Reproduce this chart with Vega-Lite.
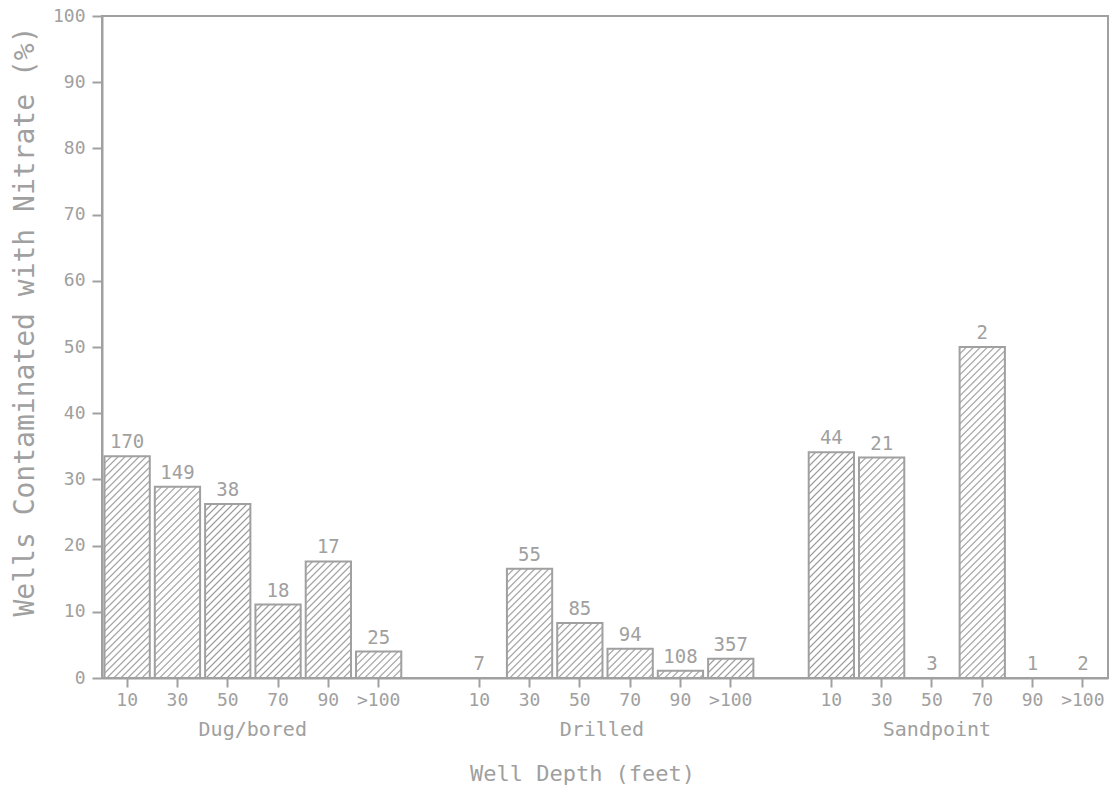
{
  "$schema": "https://vega.github.io/schema/vega-lite/v6.json",
  "autosize": "none",
  "width": 1006,
  "height": 662,
  "padding": {"left": 102, "top": 16, "right": 1, "bottom": 116},
  "background": "white",
  "params": [
    {
      "name": "hatchStops",
      "value": [
        {"offset": 0, "color": "#fff"},
        {"offset": 0.0135, "color": "#fff"}, {"offset": 0.0175, "color": "#999"}, {"offset": 0.0215, "color": "#fff"},
        {"offset": 0.031, "color": "#fff"}, {"offset": 0.035, "color": "#999"}, {"offset": 0.039, "color": "#fff"},
        {"offset": 0.0485, "color": "#fff"}, {"offset": 0.0525, "color": "#999"}, {"offset": 0.0565, "color": "#fff"},
        {"offset": 0.066, "color": "#fff"}, {"offset": 0.07, "color": "#999"}, {"offset": 0.074, "color": "#fff"},
        {"offset": 0.0835, "color": "#fff"}, {"offset": 0.0875, "color": "#999"}, {"offset": 0.0915, "color": "#fff"},
        {"offset": 0.101, "color": "#fff"}, {"offset": 0.105, "color": "#999"}, {"offset": 0.109, "color": "#fff"},
        {"offset": 0.1185, "color": "#fff"}, {"offset": 0.1225, "color": "#999"}, {"offset": 0.1265, "color": "#fff"},
        {"offset": 0.136, "color": "#fff"}, {"offset": 0.14, "color": "#999"}, {"offset": 0.144, "color": "#fff"},
        {"offset": 0.1535, "color": "#fff"}, {"offset": 0.1575, "color": "#999"}, {"offset": 0.1615, "color": "#fff"},
        {"offset": 0.171, "color": "#fff"}, {"offset": 0.175, "color": "#999"}, {"offset": 0.179, "color": "#fff"},
        {"offset": 0.1885, "color": "#fff"}, {"offset": 0.1925, "color": "#999"}, {"offset": 0.1965, "color": "#fff"},
        {"offset": 0.206, "color": "#fff"}, {"offset": 0.21, "color": "#999"}, {"offset": 0.214, "color": "#fff"},
        {"offset": 0.2235, "color": "#fff"}, {"offset": 0.2275, "color": "#999"}, {"offset": 0.2315, "color": "#fff"},
        {"offset": 0.241, "color": "#fff"}, {"offset": 0.245, "color": "#999"}, {"offset": 0.249, "color": "#fff"},
        {"offset": 0.2585, "color": "#fff"}, {"offset": 0.2625, "color": "#999"}, {"offset": 0.2665, "color": "#fff"},
        {"offset": 0.276, "color": "#fff"}, {"offset": 0.28, "color": "#999"}, {"offset": 0.284, "color": "#fff"},
        {"offset": 0.2935, "color": "#fff"}, {"offset": 0.2975, "color": "#999"}, {"offset": 0.3015, "color": "#fff"},
        {"offset": 0.311, "color": "#fff"}, {"offset": 0.315, "color": "#999"}, {"offset": 0.319, "color": "#fff"},
        {"offset": 0.3285, "color": "#fff"}, {"offset": 0.3325, "color": "#999"}, {"offset": 0.3365, "color": "#fff"},
        {"offset": 0.346, "color": "#fff"}, {"offset": 0.35, "color": "#999"}, {"offset": 0.354, "color": "#fff"},
        {"offset": 0.3635, "color": "#fff"}, {"offset": 0.3675, "color": "#999"}, {"offset": 0.3715, "color": "#fff"},
        {"offset": 0.381, "color": "#fff"}, {"offset": 0.385, "color": "#999"}, {"offset": 0.389, "color": "#fff"},
        {"offset": 0.3985, "color": "#fff"}, {"offset": 0.4025, "color": "#999"}, {"offset": 0.4065, "color": "#fff"},
        {"offset": 0.416, "color": "#fff"}, {"offset": 0.42, "color": "#999"}, {"offset": 0.424, "color": "#fff"},
        {"offset": 0.4335, "color": "#fff"}, {"offset": 0.4375, "color": "#999"}, {"offset": 0.4415, "color": "#fff"},
        {"offset": 0.451, "color": "#fff"}, {"offset": 0.455, "color": "#999"}, {"offset": 0.459, "color": "#fff"},
        {"offset": 0.4685, "color": "#fff"}, {"offset": 0.4725, "color": "#999"}, {"offset": 0.4765, "color": "#fff"},
        {"offset": 0.486, "color": "#fff"}, {"offset": 0.49, "color": "#999"}, {"offset": 0.494, "color": "#fff"},
        {"offset": 0.5035, "color": "#fff"}, {"offset": 0.5075, "color": "#999"}, {"offset": 0.5115, "color": "#fff"},
        {"offset": 0.521, "color": "#fff"}, {"offset": 0.525, "color": "#999"}, {"offset": 0.529, "color": "#fff"},
        {"offset": 0.5385, "color": "#fff"}, {"offset": 0.5425, "color": "#999"}, {"offset": 0.5465, "color": "#fff"},
        {"offset": 0.556, "color": "#fff"}, {"offset": 0.56, "color": "#999"}, {"offset": 0.564, "color": "#fff"},
        {"offset": 0.5735, "color": "#fff"}, {"offset": 0.5775, "color": "#999"}, {"offset": 0.5815, "color": "#fff"},
        {"offset": 0.591, "color": "#fff"}, {"offset": 0.595, "color": "#999"}, {"offset": 0.599, "color": "#fff"},
        {"offset": 0.6085, "color": "#fff"}, {"offset": 0.6125, "color": "#999"}, {"offset": 0.6165, "color": "#fff"},
        {"offset": 0.626, "color": "#fff"}, {"offset": 0.63, "color": "#999"}, {"offset": 0.634, "color": "#fff"},
        {"offset": 0.6435, "color": "#fff"}, {"offset": 0.6475, "color": "#999"}, {"offset": 0.6515, "color": "#fff"},
        {"offset": 0.661, "color": "#fff"}, {"offset": 0.665, "color": "#999"}, {"offset": 0.669, "color": "#fff"},
        {"offset": 0.6785, "color": "#fff"}, {"offset": 0.6825, "color": "#999"}, {"offset": 0.6865, "color": "#fff"},
        {"offset": 0.696, "color": "#fff"}, {"offset": 0.7, "color": "#999"}, {"offset": 0.704, "color": "#fff"},
        {"offset": 0.7135, "color": "#fff"}, {"offset": 0.7175, "color": "#999"}, {"offset": 0.7215, "color": "#fff"},
        {"offset": 0.731, "color": "#fff"}, {"offset": 0.735, "color": "#999"}, {"offset": 0.739, "color": "#fff"},
        {"offset": 0.7485, "color": "#fff"}, {"offset": 0.7525, "color": "#999"}, {"offset": 0.7565, "color": "#fff"},
        {"offset": 0.766, "color": "#fff"}, {"offset": 0.77, "color": "#999"}, {"offset": 0.774, "color": "#fff"},
        {"offset": 0.7835, "color": "#fff"}, {"offset": 0.7875, "color": "#999"}, {"offset": 0.7915, "color": "#fff"},
        {"offset": 0.801, "color": "#fff"}, {"offset": 0.805, "color": "#999"}, {"offset": 0.809, "color": "#fff"},
        {"offset": 0.8185, "color": "#fff"}, {"offset": 0.8225, "color": "#999"}, {"offset": 0.8265, "color": "#fff"},
        {"offset": 0.836, "color": "#fff"}, {"offset": 0.84, "color": "#999"}, {"offset": 0.844, "color": "#fff"},
        {"offset": 0.8535, "color": "#fff"}, {"offset": 0.8575, "color": "#999"}, {"offset": 0.8615, "color": "#fff"},
        {"offset": 0.871, "color": "#fff"}, {"offset": 0.875, "color": "#999"}, {"offset": 0.879, "color": "#fff"},
        {"offset": 0.8885, "color": "#fff"}, {"offset": 0.8925, "color": "#999"}, {"offset": 0.8965, "color": "#fff"},
        {"offset": 0.906, "color": "#fff"}, {"offset": 0.91, "color": "#999"}, {"offset": 0.914, "color": "#fff"},
        {"offset": 0.9235, "color": "#fff"}, {"offset": 0.9275, "color": "#999"}, {"offset": 0.9315, "color": "#fff"},
        {"offset": 0.941, "color": "#fff"}, {"offset": 0.945, "color": "#999"}, {"offset": 0.949, "color": "#fff"},
        {"offset": 0.9585, "color": "#fff"}, {"offset": 0.9625, "color": "#999"}, {"offset": 0.9665, "color": "#fff"},
        {"offset": 0.976, "color": "#fff"}, {"offset": 0.98, "color": "#999"}, {"offset": 0.984, "color": "#fff"},
        {"offset": 0.9935, "color": "#fff"}, {"offset": 0.9975, "color": "#999"}, {"offset": 1, "color": "#fff"}
      ]
    }
  ],
  "data": {
    "values": [
      {"key": "Dug/bored 10", "well": "Dug/bored", "depth": "10", "pct": 33.5, "n": 170},
      {"key": "Dug/bored 30", "well": "Dug/bored", "depth": "30", "pct": 28.9, "n": 149},
      {"key": "Dug/bored 50", "well": "Dug/bored", "depth": "50", "pct": 26.3, "n": 38},
      {"key": "Dug/bored 70", "well": "Dug/bored", "depth": "70", "pct": 11.1, "n": 18},
      {"key": "Dug/bored 90", "well": "Dug/bored", "depth": "90", "pct": 17.6, "n": 17},
      {"key": "Dug/bored >100", "well": "Dug/bored", "depth": ">100", "pct": 4.0, "n": 25},
      {"key": "Drilled 10", "well": "Drilled", "depth": "10", "pct": 0, "n": 7},
      {"key": "Drilled 30", "well": "Drilled", "depth": "30", "pct": 16.5, "n": 55},
      {"key": "Drilled 50", "well": "Drilled", "depth": "50", "pct": 8.3, "n": 85},
      {"key": "Drilled 70", "well": "Drilled", "depth": "70", "pct": 4.4, "n": 94},
      {"key": "Drilled 90", "well": "Drilled", "depth": "90", "pct": 1.1, "n": 108},
      {"key": "Drilled >100", "well": "Drilled", "depth": ">100", "pct": 2.9, "n": 357},
      {"key": "Sandpoint 10", "well": "Sandpoint", "depth": "10", "pct": 34.1, "n": 44},
      {"key": "Sandpoint 30", "well": "Sandpoint", "depth": "30", "pct": 33.3, "n": 21},
      {"key": "Sandpoint 50", "well": "Sandpoint", "depth": "50", "pct": 0, "n": 3},
      {"key": "Sandpoint 70", "well": "Sandpoint", "depth": "70", "pct": 50.0, "n": 2},
      {"key": "Sandpoint 90", "well": "Sandpoint", "depth": "90", "pct": 0, "n": 1},
      {"key": "Sandpoint >100", "well": "Sandpoint", "depth": ">100", "pct": 0, "n": 2}
    ]
  },
  "layer": [
    {
      "mark": {
        "type": "bar",
        "orient": "vertical",
        "stroke": "#a0a0a0",
        "strokeWidth": 2,
        "fill": {"expr": "{gradient: 'linear', x1: 0, y1: 0, x2: bandwidth('x') * 400 / (pow(bandwidth('x'), 2) + pow(scale('y', 0) - scale('y', datum.pct), 2)), y2: (scale('y', 0) - scale('y', datum.pct)) * 400 / (pow(bandwidth('x'), 2) + pow(scale('y', 0) - scale('y', datum.pct), 2)), stops: hatchStops}"}
      },
      "encoding": {
        "x": {
          "field": "key",
          "type": "nominal",
          "sort": null,
          "scale": {
            "domain": [
              "Dug/bored 10", "Dug/bored 30", "Dug/bored 50", "Dug/bored 70", "Dug/bored 90", "Dug/bored >100",
              "gap 1",
              "Drilled 10", "Drilled 30", "Drilled 50", "Drilled 70", "Drilled 90", "Drilled >100",
              "gap 2",
              "Sandpoint 10", "Sandpoint 30", "Sandpoint 50", "Sandpoint 70", "Sandpoint 90", "Sandpoint >100"
            ],
            "paddingInner": 0.1,
            "paddingOuter": 0.05
          },
          "axis": {
            "orient": "bottom",
            "values": [
              "Dug/bored 10", "Dug/bored 30", "Dug/bored 50", "Dug/bored 70", "Dug/bored 90", "Dug/bored >100",
              "Drilled 10", "Drilled 30", "Drilled 50", "Drilled 70", "Drilled 90", "Drilled >100",
              "Sandpoint 10", "Sandpoint 30", "Sandpoint 50", "Sandpoint 70", "Sandpoint 90", "Sandpoint >100"
            ],
            "labelExpr": "split(datum.value, ' ')[1]",
            "labelAngle": 0,
            "labelFontSize": 18,
            "labelPadding": 4,
            "tickSize": 9,
            "title": null
          }
        },
        "y": {
          "field": "pct",
          "type": "quantitative",
          "stack": null,
          "scale": {"domain": [0, 100], "nice": false},
          "axis": {
            "values": [0, 10, 20, 30, 40, 50, 60, 70, 80, 90, 100],
            "tickSize": 10,
            "labelFontSize": 18,
            "labelPadding": 7,
            "title": "Wells Contaminated with Nitrate (%)",
            "titleFontSize": 28,
            "titlePadding": 13,
            "titleY": 305
          }
        }
      }
    },
    {
      "mark": {
        "type": "text",
        "baseline": "alphabetic",
        "dy": -8,
        "font": "DejaVu Sans Mono",
        "fontSize": 19,
        "fill": "#a0a0a0"
      },
      "encoding": {
        "x": {
          "field": "key",
          "type": "nominal",
          "sort": null,
          "axis": {
            "orient": "bottom",
            "values": ["Dug/bored 50", "Drilled 50", "Sandpoint 50"],
            "labelExpr": "split(datum.value, ' ')[0]",
            "labelAngle": 0,
            "labelOffset": {
              "condition": [
                {"test": "datum.value == 'Drilled 50'", "value": 22},
                {"test": "datum.value == 'Sandpoint 50'", "value": 5}
              ],
              "value": 25
            },
            "labelFontSize": 20,
            "labelPadding": 41,
            "ticks": false,
            "tickSize": 0,
            "domain": false,
            "title": "Well Depth (feet)",
            "titleFontSize": 22,
            "titlePadding": 24,
            "titleX": 480
          }
        },
        "y": {"field": "pct", "type": "quantitative"},
        "text": {"field": "n", "type": "nominal"}
      }
    }
  ],
  "resolve": {"axis": {"x": "independent"}},
  "config": {
    "view": {"stroke": "#a0a0a0", "strokeWidth": 2},
    "axis": {
      "grid": false,
      "domainColor": "#a0a0a0",
      "domainWidth": 2,
      "tickColor": "#a0a0a0",
      "tickWidth": 2,
      "labelColor": "#a0a0a0",
      "labelFont": "DejaVu Sans Mono",
      "titleColor": "#a0a0a0",
      "titleFont": "DejaVu Sans Mono",
      "titleFontWeight": "normal"
    }
  }
}
